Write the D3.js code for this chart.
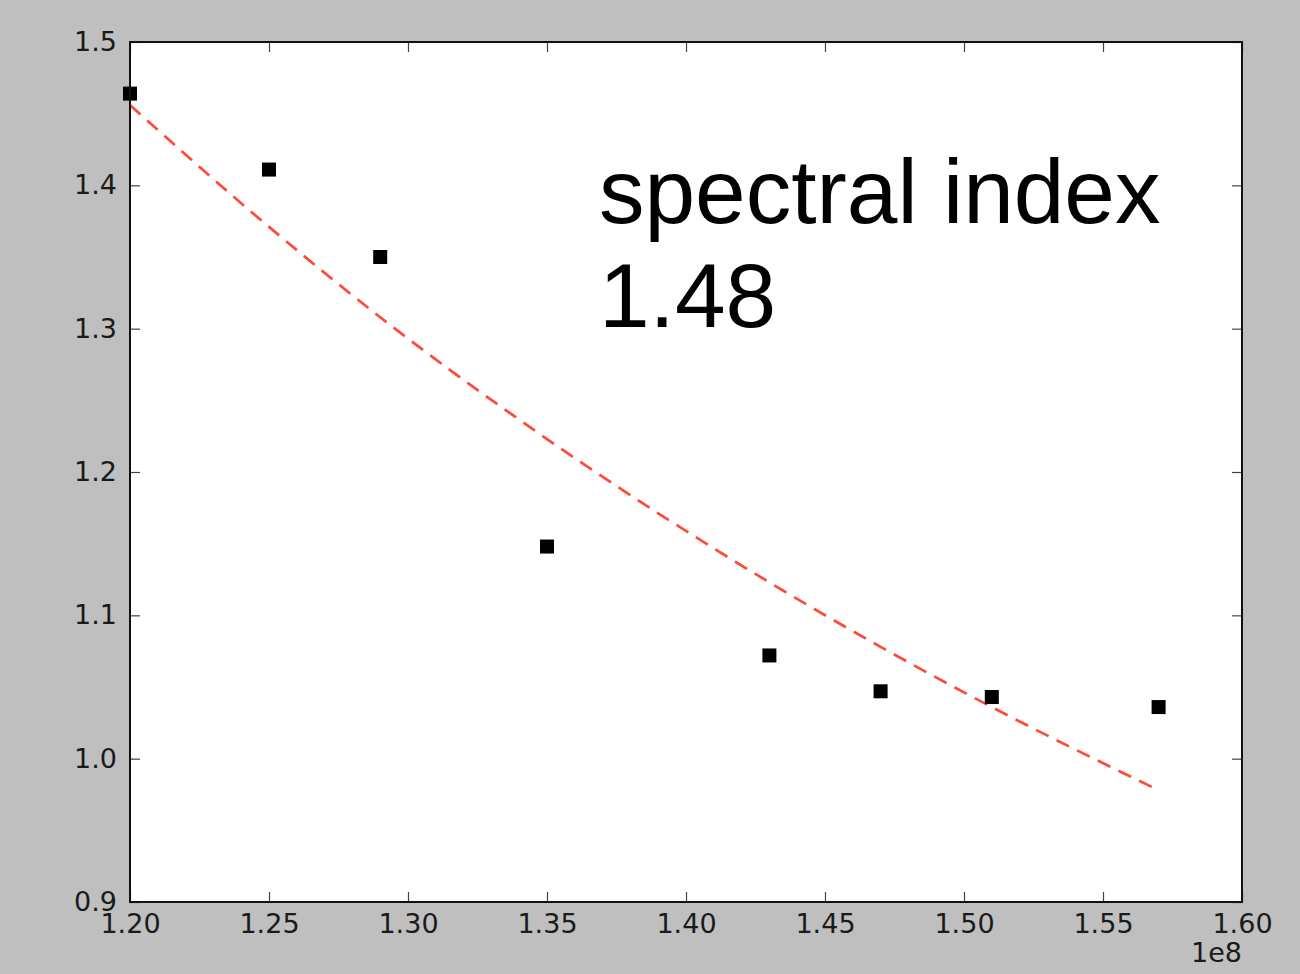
<!DOCTYPE html>
<html>
<head>
<meta charset="utf-8">
<script src="https://cdn.jsdelivr.net/npm/d3@7"></script>
<style>
  html, body { margin: 0; padding: 0; background: #bfbfbf; }
  svg { display: block; }
  .tick text { font-family: "DejaVu Sans", sans-serif; font-size: 27px; fill: #1a1a1a; }
</style>
</head>
<body>
<svg id="chart" width="1300" height="974"></svg>
<script>
const freqs = [1.20, 1.25, 1.29, 1.35, 1.43, 1.47, 1.51, 1.57];
const values = [1.464, 1.411, 1.350, 1.148, 1.072, 1.047, 1.043, 1.036];
// fitted power-law curve, as read at the same frequencies
const fitValues = [1.456, 1.371, 1.308, 1.223, 1.123, 1.078, 1.036, 0.978];

const xTicks = [1.20, 1.25, 1.30, 1.35, 1.40, 1.45, 1.50, 1.55, 1.60];
const yTicks = [0.9, 1.0, 1.1, 1.2, 1.3, 1.4, 1.5];

const margin = {left: 130, top: 42, right: 58, bottom: 72};
const svg = d3.select('#chart');
const width = 1300 - margin.left - margin.right;
const height = 974 - margin.top - margin.bottom;

const g = svg.append('g')
  .attr('transform', `translate(${margin.left},${margin.top})`);

const x = d3.scaleLinear().domain([1.20, 1.60]).range([0, width]);
const y = d3.scaleLinear().domain([0.9, 1.5]).range([height, 0]);

// white plotting area
g.append('rect')
  .attr('width', width)
  .attr('height', height)
  .attr('fill', 'white');

// axes with inward ticks on all four sides
function styleAxis(sel) {
  sel.select('.domain').remove();
  sel.selectAll('.tick line').attr('stroke', '#444').attr('stroke-width', 1.2);
}

g.append('g')
  .attr('transform', `translate(0,${height})`)
  .call(d3.axisBottom(x).tickValues(xTicks).tickFormat(d3.format('.2f'))
    .tickSizeInner(-10).tickSizeOuter(0).tickPadding(12))
  .call(styleAxis);

g.append('g')
  .call(d3.axisTop(x).tickValues(xTicks).tickFormat('')
    .tickSizeInner(-10).tickSizeOuter(0))
  .call(styleAxis);

g.append('g')
  .call(d3.axisLeft(y).tickValues(yTicks).tickFormat(d3.format('.1f'))
    .tickSizeInner(-10).tickSizeOuter(0).tickPadding(13))
  .call(styleAxis);

g.append('g')
  .attr('transform', `translate(${width},0)`)
  .call(d3.axisRight(y).tickValues(yTicks).tickFormat('')
    .tickSizeInner(-10).tickSizeOuter(0))
  .call(styleAxis);

// fit curve
const line = d3.line()
  .x((d, i) => x(freqs[i]))
  .y(d => y(d))
  .curve(d3.curveMonotoneX);

g.append('path')
  .datum(fitValues)
  .attr('d', line)
  .attr('fill', 'none')
  .attr('stroke', '#ff4a3a')
  .attr('stroke-width', 2.7)
  .attr('stroke-dasharray', '14,9');

// measured points
const size = 14;
g.selectAll('.pt')
  .data(values)
  .enter().append('rect')
    .attr('class', 'pt')
    .attr('x', (d, i) => x(freqs[i]) - size / 2)
    .attr('y', d => y(d) - size / 2)
    .attr('width', size)
    .attr('height', size)
    .attr('fill', 'black');

// frame
g.append('rect')
  .attr('width', width)
  .attr('height', height)
  .attr('fill', 'none')
  .attr('stroke', '#111')
  .attr('stroke-width', 2);

// offset label
svg.append('text')
  .attr('x', margin.left + width)
  .attr('y', 962)
  .attr('text-anchor', 'end')
  .style('font-family', '"DejaVu Sans", sans-serif')
  .style('font-size', '27px')
  .attr('fill', '#1a1a1a')
  .text('1e8');

// annotation
const note = svg.append('text')
  .style('font-family', '"Liberation Sans", Arial, sans-serif')
  .style('font-size', '91px')
  .attr('fill', 'black');
note.append('tspan').attr('x', 599).attr('y', 223).text('spectral index');
note.append('tspan').attr('x', 599).attr('y', 327).text('1.48');
</script>
</body>
</html>
